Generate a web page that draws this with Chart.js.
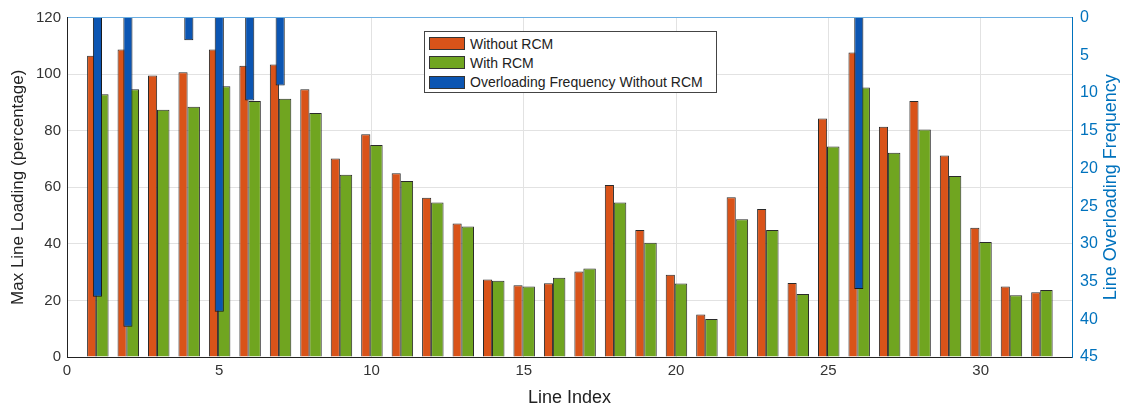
<!DOCTYPE html>
<html>
<head>
<meta charset="utf-8">
<script src="https://cdn.jsdelivr.net/npm/chart.js@4.4.0/dist/chart.umd.min.js"></script>
<style>
  html, body { margin: 0; padding: 0; background: #fff; }
  #wrap { position: relative; width: 1129px; height: 412px; }
  #legend {
    position: absolute; left: 424px; top: 31px; width: 293px; height: 62px;
    box-sizing: border-box; border: 1px solid #444; background: #fff; padding-top: 2px;
    font: 14px "Liberation Sans", Arial, sans-serif; color: #222;
  }
  .row { display: flex; align-items: center; height: 19.3px; }
  .sw { width: 36px; height: 13px; box-sizing: border-box; border: 1px solid #333; margin: 0 5px 0 4px; }
</style>
</head>
<body>
<div id="wrap">
  <canvas id="chart" width="1129" height="412"></canvas>
  <div id="legend"></div>
</div>
<script>
// data
const lineIndex = [1, 2, 3, 4, 5, 6, 7, 8, 9, 10, 11, 12, 13, 14, 15, 16,
  17, 18, 19, 20, 21, 22, 23, 24, 25, 26, 27, 28, 29, 30, 31, 32];
const withoutRCM = [106.5, 108.7, 99.5, 100.7, 108.7, 103, 103.4, 94.7, 70.2, 78.8, 65, 56.3, 47.2, 27.4, 25.4, 26.1,
  30.2, 60.8, 44.9, 29.1, 15, 56.5, 52.3, 26.2, 84.3, 107.7, 81.4, 90.5, 71.2, 45.7, 24.9, 22.9];
const withRCM = [92.9, 94.7, 87.4, 88.5, 95.7, 90.5, 91.3, 86.3, 64.4, 75, 62.2, 54.6, 46.1, 27, 24.9, 28,
  31.3, 54.6, 40.4, 26, 13.4, 48.7, 44.9, 22.3, 74.4, 95.3, 72.2, 80.4, 64, 40.7, 21.8, 23.7];
const overloadIndex = [1, 2, 4, 5, 6, 7, 26];
const overloadFreq = [37, 41, 3, 39, 11, 9, 36];

const seriesNames = ["Without RCM", "With RCM", "Overloading Frequency Without RCM"];
const colors = ["#D95319", "#70A520", "#0B55B2"];
const axisBlue = "#0072BD";
const font = '"Liberation Sans", Arial, sans-serif';
const freqTitle = "Line Overloading Frequency";

const pts = (xs, ys) => xs.map((x, i) => ({ x: x, y: ys[i] }));

// right axis title reads bottom-to-top, chart.js would draw it the other way
const rightTitle = {
  id: "rightTitle",
  afterDraw(chart) {
    const { ctx, chartArea } = chart;
    ctx.save();
    ctx.translate(chart.scales.y2.right - 18, (chartArea.top + chartArea.bottom) / 2);
    ctx.rotate(-Math.PI / 2);
    ctx.font = "18px " + font;
    ctx.fillStyle = axisBlue;
    ctx.textAlign = "center";
    ctx.textBaseline = "middle";
    ctx.fillText(freqTitle, 0, 0);
    ctx.restore();
  }
};

const chart = new Chart(document.getElementById("chart"), {
  type: "bar",
  data: {
    datasets: [
      {
        label: seriesNames[0],
        data: pts(lineIndex, withoutRCM),
        backgroundColor: colors[0],
        borderColor: "#2a2a2a",
        borderWidth: 1,
        categoryPercentage: 0.76,
        barPercentage: 0.79,
        yAxisID: "y"
      },
      {
        label: seriesNames[1],
        data: pts(lineIndex, withRCM),
        backgroundColor: colors[1],
        borderColor: "#2a2a2a",
        borderWidth: 1,
        categoryPercentage: 0.64,
        barPercentage: 1.28,
        yAxisID: "y"
      },
      {
        label: seriesNames[2],
        data: pts(overloadIndex, overloadFreq),
        backgroundColor: colors[2],
        borderColor: "#1a1a1a",
        borderWidth: 1,
        grouped: false,
        categoryPercentage: 1,
        barPercentage: 0.3,
        order: -1,
        yAxisID: "y2"
      }
    ]
  },
  options: {
    responsive: false,
    animation: false,
    devicePixelRatio: 1,
    layout: { padding: { top: 15, left: 0, right: 0, bottom: 0 } },
    plugins: { legend: { display: false }, tooltip: { enabled: false } },
    scales: {
      x: {
        type: "linear",
        min: 0,
        max: 33,
        offset: false,
        stacked: false,
        afterBuildTicks: s => { s.ticks = s.ticks.filter(t => t.value % 5 === 0); },
        afterFit: s => { s.height = 55; },
        ticks: { stepSize: 5, padding: 5, color: "#333", font: { family: font, size: 15 } },
        grid: { offset: false, color: "#e2e2e2", drawTicks: false },
        border: { color: "#222", width: 1 },
        title: { display: true, text: "Line Index", color: "#222", font: { family: font, size: 18 }, padding: { top: 0, bottom: 3 } }
      },
      y: {
        position: "left",
        min: 0,
        max: 120,
        afterFit: s => { s.width = 67; },
        ticks: { stepSize: 20, padding: 6, color: "#333", font: { family: font, size: 15 } },
        grid: { color: c => (c.tick && c.tick.value === 120 ? "#6aaee2" : "#e2e2e2"), drawTicks: false },
        border: { color: "#222", width: 1 },
        title: { display: true, text: "Max Line Loading (percentage)", color: "#222", font: { family: font, size: 17 }, padding: { top: 8, bottom: 0 } }
      },
      y2: {
        position: "right",
        reverse: true,
        min: 0,
        max: 45,
        afterFit: s => { s.width = 57; },
        ticks: { stepSize: 5, padding: 8, color: axisBlue, font: { family: font, size: 16 } },
        grid: { drawOnChartArea: false, drawTicks: false },
        border: { color: axisBlue, width: 1 }
      }
    }
  },
  plugins: [rightTitle]
});

// legend box drawn inside the plot like the original
const legendEl = document.getElementById("legend");
chart.data.datasets.forEach(ds => {
  const row = document.createElement("div");
  row.className = "row";
  const sw = document.createElement("span");
  sw.className = "sw";
  sw.style.background = ds.backgroundColor;
  const txt = document.createElement("span");
  txt.textContent = ds.label;
  row.appendChild(sw);
  row.appendChild(txt);
  legendEl.appendChild(row);
});
</script>
</body>
</html>
